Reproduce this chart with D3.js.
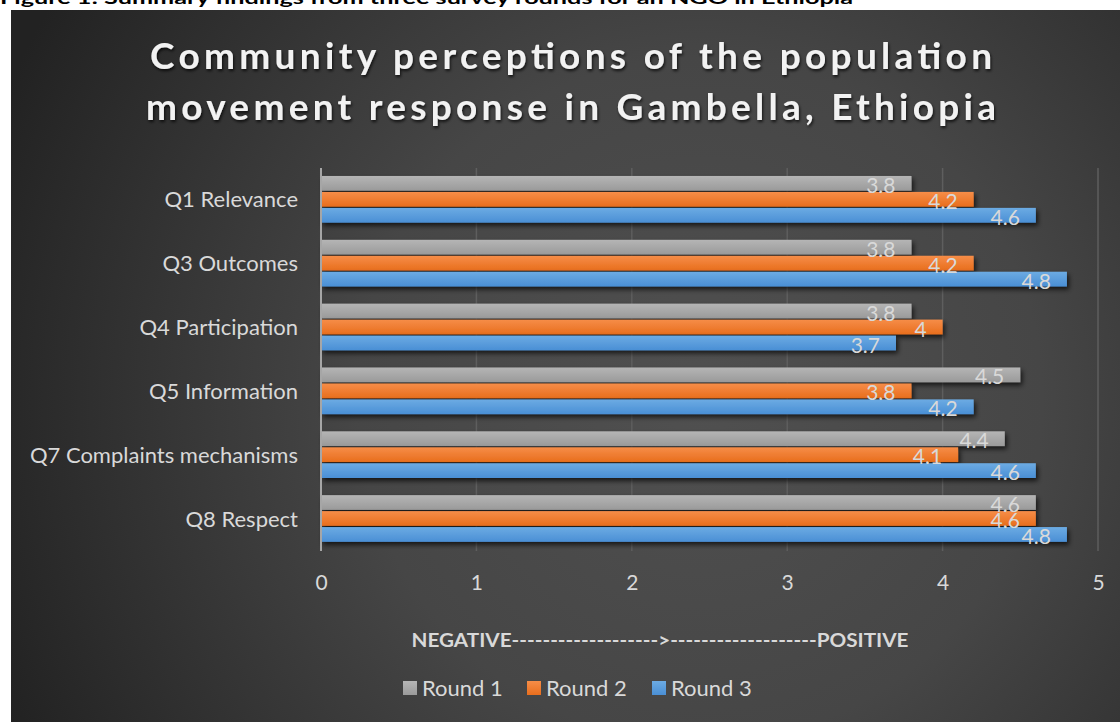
<!DOCTYPE html>
<html>
<head>
<meta charset="utf-8">
<script src="https://cdn.jsdelivr.net/npm/d3@7"></script>
<style>
  html, body { margin: 0; padding: 0; background: #ffffff; }
  svg { display: block; }
  text { font-family: Lato, "Open Sans", "DejaVu Sans", sans-serif; }
</style>
</head>
<body>
<svg id="chart" width="1120" height="722"></svg>
<script>
const categories = ["Q1 Relevance", "Q3 Outcomes", "Q4 Participation", "Q5 Information", "Q7 Complaints mechanisms", "Q8 Respect"];
const seriesNames = ["Round 1", "Round 2", "Round 3"];
const round1 = [3.8, 3.8, 3.8, 4.5, 4.4, 4.6];
const round2 = [4.2, 4.2, 4, 3.8, 4.1, 4.6];
const round3 = [4.6, 4.8, 3.7, 4.2, 4.6, 4.8];
const xTicks = [0, 1, 2, 3, 4, 5];
const titleLines = ["Community perceptions of the population", "movement response in Gambella, Ethiopia"];
const caption = "Figure 1: Summary findings from three survey rounds for an NGO in Ethiopia";
const axisTitle = "NEGATIVE------------------->-------------------POSITIVE";

const seriesValues = [round1, round2, round3];
const colors = [
  {top: "#b5b5b5", bottom: "#9a9a9a"},
  {top: "#f68d48", bottom: "#e86e1d"},
  {top: "#6cabe3", bottom: "#4a8fd5"}
];

const svg = d3.select("#chart");
const defs = svg.append("defs");

// background radial gradient
const bg = defs.append("radialGradient").attr("id", "bgGrad")
  .attr("gradientUnits", "userSpaceOnUse")
  .attr("cx", 700).attr("cy", 400).attr("r", 760);
bg.append("stop").attr("offset", "0%").attr("stop-color", "#505050");
bg.append("stop").attr("offset", "45%").attr("stop-color", "#464646");
bg.append("stop").attr("offset", "100%").attr("stop-color", "#222222");

colors.forEach((c, i) => {
  const g = defs.append("linearGradient").attr("id", "barGrad" + i)
    .attr("x1", 0).attr("y1", 0).attr("x2", 0).attr("y2", 1);
  g.append("stop").attr("offset", "0%").attr("stop-color", c.top);
  g.append("stop").attr("offset", "100%").attr("stop-color", c.bottom);
});

const shadow = defs.append("filter").attr("id", "barShadow")
  .attr("x", "-5%").attr("y", "-50%").attr("width", "115%").attr("height", "250%");
shadow.append("feDropShadow").attr("dx", 2).attr("dy", 3).attr("stdDeviation", 2.5)
  .attr("flood-color", "#000").attr("flood-opacity", 0.7);

const tShadow = defs.append("filter").attr("id", "titleShadow")
  .attr("x", "-5%").attr("y", "-30%").attr("width", "110%").attr("height", "160%");
tShadow.append("feDropShadow").attr("dx", 1).attr("dy", 2).attr("stdDeviation", 1.5)
  .attr("flood-color", "#000").attr("flood-opacity", 0.75);

// caption (cut off at the top edge, as in the source)
svg.append("text")
  .attr("x", 0).attr("y", 4)
  .attr("font-size", 17).attr("font-weight", 700).attr("fill", "#000")
  .attr("textLength", 853).attr("lengthAdjust", "spacingAndGlyphs")
  .text(caption);

// chart background
svg.append("rect").attr("x", 11).attr("y", 10).attr("width", 1109).attr("height", 712)
  .attr("fill", "url(#bgGrad)");

// title
const titleWidths = [842, 850];
const titleBase = [69, 120];
titleLines.forEach((t, i) => {
  svg.append("text")
    .attr("x", 571).attr("y", titleBase[i])
    .attr("text-anchor", "middle")
    .attr("font-size", 37).attr("font-weight", 700)
    .attr("fill", "#f2f2f2")
    .attr("filter", "url(#titleShadow)")
    .attr("textLength", titleWidths[i]).attr("lengthAdjust", "spacing")
    .text(t);
});

// scales
const x = d3.scaleLinear().domain([0, 5]).range([321, 1098]);
const y = d3.scaleBand().domain(categories).range([168, 551]).paddingInner(0.25).paddingOuter(0.125);
const ySub = d3.scaleBand().domain(seriesNames).range([0, y.bandwidth()]);

// gridlines
svg.append("g").selectAll("line").data(xTicks.filter(d => d > 0)).join("line")
  .attr("x1", d => x(d)).attr("x2", d => x(d))
  .attr("y1", 168).attr("y2", 551)
  .attr("stroke", "#5e5e5e").attr("stroke-width", 1.5);

// bars
const groups = svg.append("g").selectAll("g").data(categories).join("g")
  .attr("transform", d => `translate(0,${y(d)})`);

seriesNames.forEach((s, si) => {
  groups.append("rect")
    .attr("x", x(0))
    .attr("y", ySub(s))
    .attr("width", (d, ci) => x(seriesValues[si][ci]) - x(0))
    .attr("height", ySub.bandwidth() - 1.2)
    .attr("fill", `url(#barGrad${si})`)
    .attr("filter", "url(#barShadow)");
});

// value labels
seriesNames.forEach((s, si) => {
  groups.append("text")
    .attr("x", (d, ci) => x(seriesValues[si][ci]) - 16)
    .attr("y", ySub(s) + ySub.bandwidth() + 1)
    .attr("text-anchor", "end")
    .attr("font-size", 21)
    .attr("fill", "#d9d9d9")
    .text((d, ci) => seriesValues[si][ci]);
});

// vertical axis line
svg.append("line").attr("x1", x(0)).attr("x2", x(0)).attr("y1", 168).attr("y2", 551)
  .attr("stroke", "#a6a6a6").attr("stroke-width", 2);

// category labels
svg.append("g").selectAll("text").data(categories).join("text")
  .attr("x", 298)
  .attr("y", d => y(d) + y.bandwidth() / 2 + 7.5)
  .attr("text-anchor", "end")
  .attr("font-size", 22)
  .attr("fill", "#d9d9d9")
  .text(d => d);

// x tick labels
const xAxis = d3.axisBottom(x).tickValues(xTicks).tickSize(0).tickPadding(0).tickFormat(d3.format("d"));
const xg = svg.append("g").attr("transform", "translate(0,575)").call(xAxis);
xg.select(".domain").remove();
xg.selectAll("text")
  .attr("dy", null).attr("y", 14.5)
  .attr("font-size", 21).attr("fill", "#d9d9d9")
  .attr("font-family", "Lato, 'Open Sans', sans-serif");

// axis title
svg.append("text")
  .attr("x", 660).attr("y", 647)
  .attr("text-anchor", "middle")
  .attr("font-size", 19).attr("font-weight", 700)
  .attr("fill", "#d9d9d9")
  .attr("textLength", 497).attr("lengthAdjust", "spacingAndGlyphs")
  .text(axisTitle);

// legend
const legendX = [403, 527, 652];
const legend = svg.append("g").selectAll("g").data(seriesNames).join("g")
  .attr("transform", (d, i) => `translate(${legendX[i]},681)`);
legend.append("rect").attr("width", 14).attr("height", 14)
  .attr("fill", (d, i) => `url(#barGrad${i})`);
legend.append("text").attr("x", 19).attr("y", 14.5)
  .attr("font-size", 22).attr("fill", "#d9d9d9")
  .text(d => d);
</script>
</body>
</html>
